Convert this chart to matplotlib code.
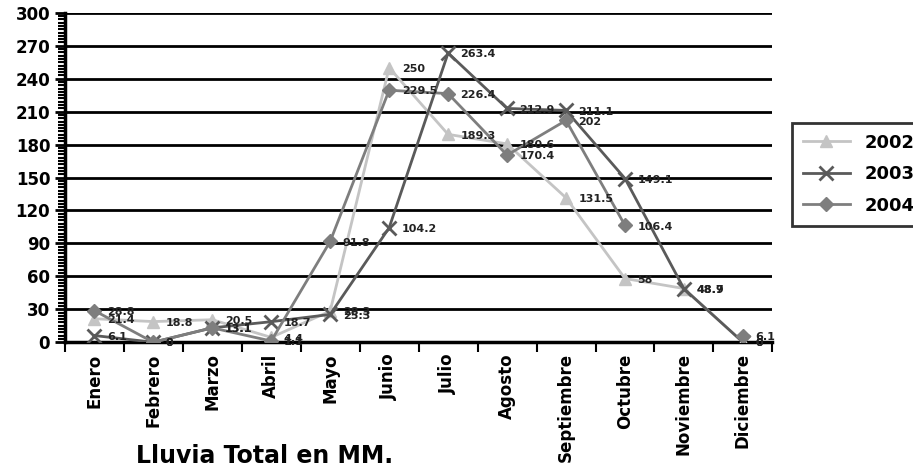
import numpy as np
import matplotlib
matplotlib.use("Agg")
import matplotlib.pyplot as plt
from matplotlib.ticker import MultipleLocator

meses = ["Enero", "Febrero", "Marzo", "Abril", "Mayo", "Junio", "Julio",
         "Agosto", "Septiembre", "Octubre", "Noviembre", "Diciembre"]
lluvia_2002 = [21.4, 18.8, 20.5, 4.4, 28.3, 250, 189.3, 180.6, 131.5, 58, 48.9, 0]
lluvia_2003 = [6.1, 0, 13.1, 18.7, 25.3, 104.2, 263.4, 212.9, 211.1, 149.1, 48.7, 0]
lluvia_2004 = [28.8, 0, 13.1, 1.1, 91.8, 229.5, 226.4, 170.4, 202, 106.4, np.nan, 6.1]
yticks = list(range(0, 301, 30))

plt.rcParams['font.family'] = ['DejaVu Sans']

fig = plt.figure(figsize=(9.13, 4.74), dpi=100)
ax = fig.add_axes([0.071, 0.278, 0.775, 0.695])

x = np.arange(len(meses))
series = [
    ("2002", lluvia_2002, "#c4c4c4", "^", 9),
    ("2003", lluvia_2003, "#5a5a5a", "x", 10),
    ("2004", lluvia_2004, "#7e7e7e", "D", 7),
]
for name, vals, col, mk, ms in series:
    ax.plot(x, vals, color=col, lw=2, marker=mk, markersize=ms,
            markeredgewidth=2 if mk == "x" else 1, markeredgecolor=col,
            label=name, zorder=3)
    for xi, v in zip(x, vals):
        if np.isnan(v):
            continue
        lbl = "%g" % v
        ax.annotate(lbl, (xi, v), xytext=(9, -3), textcoords="offset points",
                    fontsize=8, fontweight="bold", color="#222222", zorder=4)

ax.set_xlim(-0.5, len(meses) - 0.5)
ax.set_ylim(0, 300)
ax.set_yticks(yticks)
ax.yaxis.set_minor_locator(MultipleLocator(3))
ax.grid(axis="y", which="major", color="black", lw=2)
ax.set_xticks(x)
ax.set_xticklabels(meses, rotation=90, fontsize=12, fontweight="bold")
ax.set_xticks(np.arange(-0.5, len(meses), 1), minor=True)
ax.tick_params(axis="x", which="major", length=0, pad=8)
ax.tick_params(axis="x", which="minor", length=7, width=1.5, direction="out")
ax.tick_params(axis="y", which="major", length=7, width=2, labelsize=12)
ax.tick_params(axis="y", which="minor", length=5, width=1.5)
for lbl in ax.get_yticklabels():
    lbl.set_fontweight("bold")
for s in ["top", "right"]:
    ax.spines[s].set_visible(False)
ax.spines["left"].set_linewidth(2.5)
ax.spines["bottom"].set_linewidth(2.5)

leg = ax.legend(loc="center left", bbox_to_anchor=(1.015, 0.51), frameon=True,
                fancybox=False, edgecolor="black",
                prop={"weight": "bold", "size": 13}, handlelength=2.6,
                labelspacing=0.75, borderpad=0.6)
leg.get_frame().set_linewidth(2)

fig.text(0.29, 0.012, "Lluvia Total en MM.", fontsize=17, fontweight="heavy",
         ha="center", va="bottom")

fig.savefig("out.png", dpi=100)
